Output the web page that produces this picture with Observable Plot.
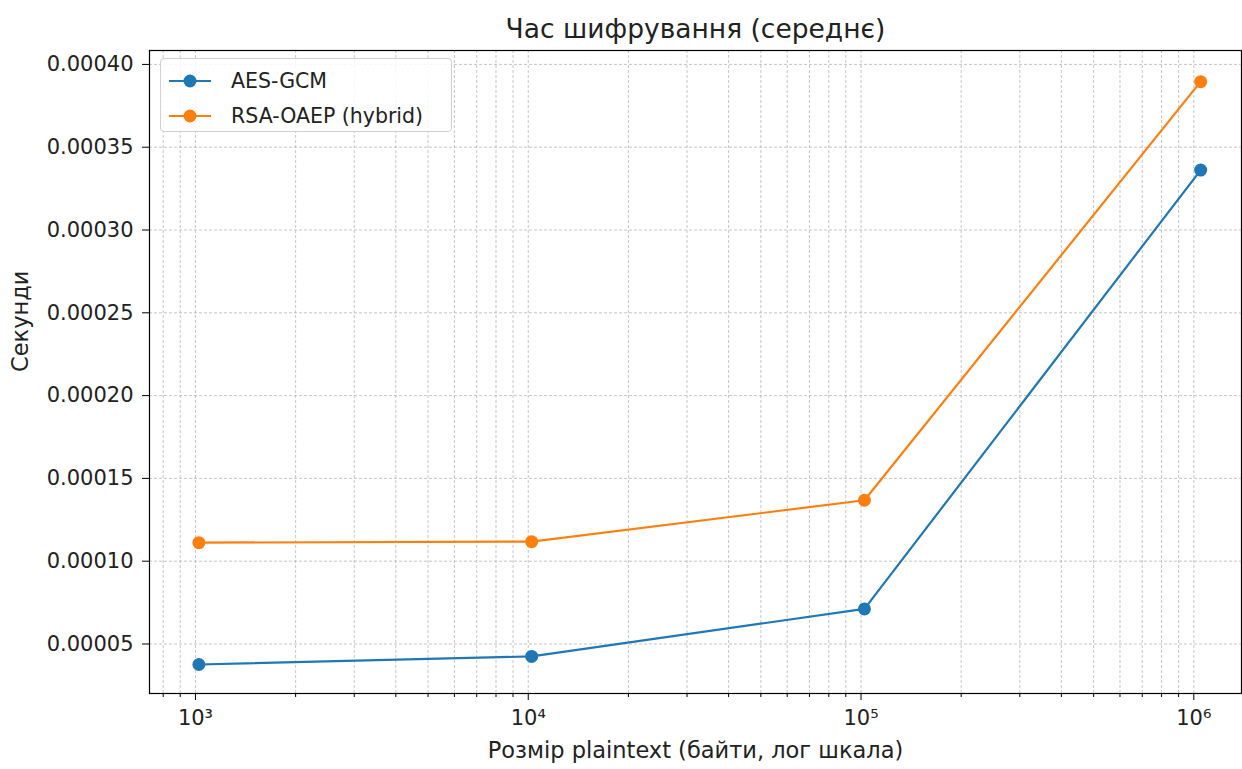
<!DOCTYPE html>
<html>
<head>
<meta charset="utf-8">
<script src="https://cdn.jsdelivr.net/npm/d3@7"></script>
<script src="https://cdn.jsdelivr.net/npm/@observablehq/plot@0.6"></script>
<style>
  html, body { margin: 0; padding: 0; background: #fff; }
  #wrap { position: relative; width: 1242px; height: 769px; font-family: "DejaVu Sans", sans-serif; }
  #legend { position: absolute; left: 160px; top: 58px; width: 292px; height: 74px;
    border: 1px solid #d0d0d0; border-radius: 4px; background: rgba(255,255,255,0.85);
    box-sizing: border-box; font-size: 20.5px; color: #222; }
  .row { position: absolute; left: 6px; height: 30px; display: flex; align-items: center; }
  .row span { margin-left: 18px; }
</style>
</head>
<body>
<div id="wrap"></div>
<script>
const sizes = [1024, 10240, 102400, 1048576];
const aesTimes = [0.0000376, 0.0000425, 0.0000712, 0.0003362];
const rsaTimes = [0.0001112, 0.0001118, 0.0001368, 0.0003896];
const seriesNames = ["AES-GCM", "RSA-OAEP (hybrid)"];
const seriesColors = ["#1f77b4", "#ff7f0e"];
const yTicks = [0.00005, 0.0001, 0.00015, 0.0002, 0.00025, 0.0003, 0.00035, 0.0004];
const xMajor = [1e3, 1e4, 1e5, 1e6];
const xMinor = [];
for (let e = 2; e <= 6; e++) for (let m = 2; m <= 9; m++) {
  const v = m * Math.pow(10, e);
  if (v > 727 && v < 1.39e6) xMinor.push(v);
}
const sup = {"3": "³", "4": "⁴", "5": "⁵", "6": "⁶"};
const titleText = "Час шифрування (середнє)";
const xLabel = "Розмір plaintext (байти, лог шкала)";
const yLabel = "Секунди";

const rows = [];
sizes.forEach((s, i) => rows.push({size: s, t: aesTimes[i], series: seriesNames[0]}));
sizes.forEach((s, i) => rows.push({size: s, t: rsaTimes[i], series: seriesNames[1]}));

const grid = {stroke: "#b0b0b0", strokeWidth: 0.8, strokeDasharray: "3,2", strokeOpacity: 0.9};

const chart = Plot.plot({
  width: 1242,
  height: 769,
  marginLeft: 149,
  marginRight: 1,
  marginTop: 50,
  marginBottom: 76,
  style: {fontFamily: "DejaVu Sans, sans-serif", fontSize: "21px", color: "#222", background: "#fff"},
  x: {type: "log", domain: [727.6, 1.391e6]},
  y: {domain: [0.0000201, 0.0004084]},
  color: {domain: seriesNames, range: seriesColors},
  marks: [
    Plot.ruleX(xMinor, grid),
    Plot.ruleX(xMajor, grid),
    Plot.ruleY(yTicks, grid),
    Plot.axisX(xMinor, {tickSize: 4, text: null, stroke: "#000", label: null}),
    Plot.axisX(xMajor, {tickSize: 7, tickPadding: 10, stroke: "#000", fill: "#222",
      tickFormat: d => "10" + sup[String(Math.round(Math.log10(d)))],
      fontSize: 21, label: null}),
    Plot.axisY(yTicks, {tickSize: 7, tickPadding: 9, stroke: "#000", fill: "#222",
      tickFormat: d3.format(".5f"), fontSize: 21, label: null}),
    Plot.text([xLabel], {frameAnchor: "bottom", dy: 64, fontSize: 22.5, fill: "#222", text: d => d}),
    Plot.text([yLabel], {frameAnchor: "left", dx: -129, rotate: -90, fontSize: 22.5, fill: "#222", text: d => d}),
    Plot.text([titleText], {frameAnchor: "top", dy: -31, fontSize: 26.5, fill: "#222", text: d => d}),
    Plot.line(rows, {x: "size", y: "t", stroke: "series", strokeWidth: 2.2}),
    Plot.dot(rows, {x: "size", y: "t", fill: "series", r: 6.5}),
    Plot.frame({stroke: "#000", strokeWidth: 1.2})
  ]
});
const wrap = document.getElementById("wrap");
wrap.appendChild(chart);

const legend = document.createElement("div");
legend.id = "legend";
seriesNames.forEach((name, i) => {
  const row = document.createElement("div");
  row.className = "row";
  row.style.top = (7 + i * 35) + "px";
  row.innerHTML = `<svg width="46" height="20"><line x1="2" x2="44" y1="10" y2="10" stroke="${seriesColors[i]}" stroke-width="2.2"/><circle cx="23" cy="10" r="6.5" fill="${seriesColors[i]}"/></svg><span>${name}</span>`;
  legend.appendChild(row);
});
wrap.appendChild(legend);
</script>
</body>
</html>
